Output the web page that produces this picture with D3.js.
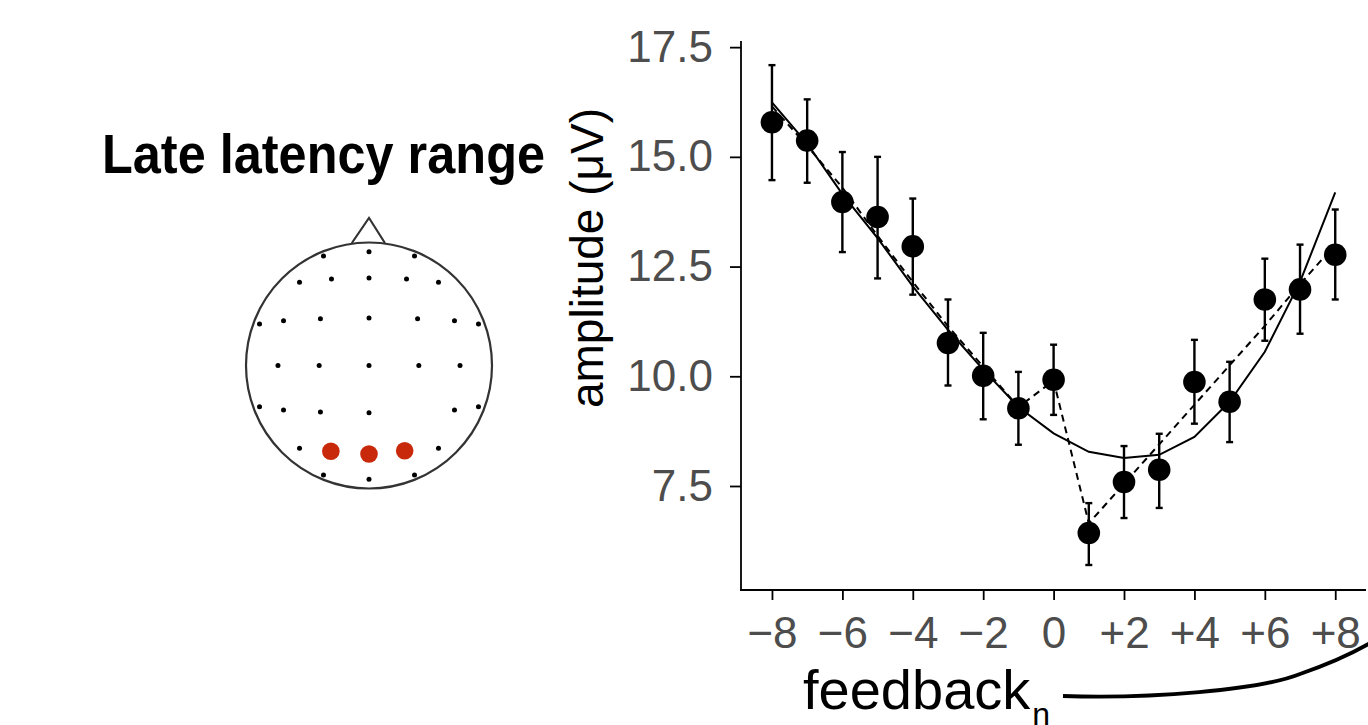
<!DOCTYPE html>
<html>
<head>
<meta charset="utf-8">
<script src="https://cdn.jsdelivr.net/npm/d3@7"></script>
<style>
  html, body { margin: 0; padding: 0; background: #fff; }
  svg { display: block; font-family: "Liberation Sans", Arial, sans-serif; }
</style>
</head>
<body>
<svg id="chart" width="1368" height="725"></svg>
<script>
// feedback lag (n) and mean amplitude with error bars
const lags      = [-8, -7, -6, -5, -4, -3, -2, -1, 0, 1, 2, 3, 4, 5, 6, 7, 8];
const amplitude = [15.79, 15.37, 13.97, 13.63, 12.96, 10.76, 10.01, 9.27, 9.92, 6.43, 7.59, 7.87, 9.87, 9.42, 11.75, 11.98, 12.77];
const errLow    = [14.47, 14.41, 12.83, 12.23, 11.86, 9.79, 9.02, 8.44, 9.12, 5.70, 6.77, 7.00, 8.92, 8.50, 10.81, 10.97, 11.75];
const errHigh   = [17.09, 16.31, 15.11, 15.00, 14.05, 11.75, 10.99, 10.10, 10.72, 7.11, 8.41, 8.69, 10.83, 10.33, 12.68, 13.00, 13.80];
// model predictions: solid = smooth fit, dashed = piecewise fit
const fitSolid  = [16.24, 15.30, 14.15, 13.15, 12.05, 11.06, 10.15, 9.30, 8.70, 8.28, 8.14, 8.21, 8.62, 9.42, 10.56, 12.15, 14.19];
const fitDashed = [16.15, 15.25, 14.30, 13.20, 12.15, 11.14, 10.22, 9.30, 9.90, 6.65, 7.55, 8.45, 9.35, 10.25, 11.15, 12.10, 13.00];

const xTicks = [-8, -6, -4, -2, 0, 2, 4, 6, 8];
const xTickLabels = ['\u22128', '\u22126', '\u22124', '\u22122', '0', '+2', '+4', '+6', '+8'];
const yTicks = [7.5, 10, 12.5, 15, 17.5];

// electrode layout on a unit head (x right, y toward back of head)
const electrodes = [
  [-0.37, -0.89], [0, -0.925], [0.37, -0.89],
  [-0.565, -0.676], [-0.305, -0.703], [0, -0.711], [0.305, -0.703], [0.565, -0.676],
  [-0.89, -0.337], [-0.695, -0.364], [-0.395, -0.38], [0, -0.386], [0.395, -0.38], [0.695, -0.364], [0.89, -0.337],
  [-0.74, 0], [-0.405, 0], [0, 0], [0.405, 0], [0.74, 0],
  [-0.89, 0.335], [-0.695, 0.362], [-0.395, 0.378], [0, 0.384], [0.695, 0.362], [0.89, 0.335],
  [-0.565, 0.673], [0.565, 0.673],
  [-0.37, 0.89], [0, 0.925], [0.37, 0.89]
];
const selected = [[-0.31, 0.697], [0, 0.72], [0.29, 0.693]];

const svg = d3.select('#chart');

// ---- chart panel ----
const x = d3.scaleLinear().domain([-8.8, 8.8]).range([743.8, 1363.4]);
const y = d3.scaleLinear().domain([5.13, 17.64]).range([590, 41]);

const plot = svg.append('g');

const line = d3.line().x((d, i) => x(lags[i])).y(d => y(d));

plot.append('path')
  .attr('d', line(fitSolid))
  .attr('fill', 'none').attr('stroke', '#000').attr('stroke-width', 2);

plot.append('path')
  .attr('d', line(fitDashed))
  .attr('fill', 'none').attr('stroke', '#000').attr('stroke-width', 2)
  .attr('stroke-dasharray', '7,5');

const bars = plot.append('g').attr('stroke', '#000').attr('stroke-width', 2.4);
lags.forEach((l, i) => {
  const cx = x(l);
  bars.append('line').attr('x1', cx).attr('x2', cx).attr('y1', y(errLow[i])).attr('y2', y(errHigh[i]));
  bars.append('line').attr('x1', cx - 3.5).attr('x2', cx + 3.5).attr('y1', y(errLow[i])).attr('y2', y(errLow[i]));
  bars.append('line').attr('x1', cx - 3.5).attr('x2', cx + 3.5).attr('y1', y(errHigh[i])).attr('y2', y(errHigh[i]));
});

plot.selectAll('circle.pt')
  .data(amplitude)
  .enter().append('circle')
  .attr('class', 'pt')
  .attr('cx', (d, i) => x(lags[i]))
  .attr('cy', d => y(d))
  .attr('r', 11.3)
  .attr('fill', '#000');

// axes
const yAxis = svg.append('g')
  .attr('transform', 'translate(741,0)')
  .call(d3.axisLeft(y).tickValues(yTicks).tickFormat(d3.format('.1f')).tickSize(11).tickPadding(17));

const xAxis = svg.append('g')
  .attr('transform', 'translate(0,590)')
  .call(d3.axisBottom(x).tickValues(xTicks).tickFormat((d, i) => xTickLabels[i]).tickSize(10).tickPadding(17));

[yAxis, xAxis].forEach(a => {
  a.select('.domain').remove();
  a.selectAll('line').attr('stroke', '#000').attr('stroke-width', 1.8);
  a.selectAll('text')
    .attr('fill', '#4d4d4d')
    .style('font-size', '44px')
    .style('font-family', '"Liberation Sans", Arial, sans-serif');
});

svg.append('line').attr('x1', 741).attr('x2', 741).attr('y1', 41).attr('y2', 590.9)
  .attr('stroke', '#000').attr('stroke-width', 1.8);
svg.append('line').attr('x1', 740.1).attr('x2', 1366).attr('y1', 590).attr('y2', 590)
  .attr('stroke', '#000').attr('stroke-width', 1.8);

// axis titles
svg.append('text')
  .attr('transform', 'translate(603,258) rotate(-90)')
  .attr('text-anchor', 'middle')
  .style('font-size', '46px')
  .attr('fill', '#000')
  .text('amplitude (\u03bcV)');

const xt = svg.append('text')
  .attr('x', 803).attr('y', 709)
  .style('font-size', '56px')
  .attr('fill', '#000');
xt.append('tspan').text('feedback');
xt.append('tspan').attr('dx', 2).attr('dy', 16).style('font-size', '32px').text('n');

// bracket curve under the x axis
svg.append('path')
  .attr('d', 'M1063,696 C1150,699 1260,690 1300,674 C1335,662 1355,652 1372,642')
  .attr('fill', 'none').attr('stroke', '#000').attr('stroke-width', 3.8);

// ---- title and head ----
svg.append('text')
  .attr('x', 102).attr('y', 173)
  .attr('textLength', 443).attr('lengthAdjust', 'spacingAndGlyphs')
  .style('font-size', '56px').style('font-weight', 'bold')
  .attr('fill', '#000')
  .text('Late latency range');

const head = { cx: 369, cy: 365.5, r: 123 };
const hx = d3.scaleLinear().domain([-1, 1]).range([head.cx - head.r, head.cx + head.r]);
const hy = d3.scaleLinear().domain([-1, 1]).range([head.cy - head.r, head.cy + head.r]);

const hg = svg.append('g');
hg.append('path')
  .attr('d', d3.line()([[hx(-0.14), hy(-0.995)], [hx(0), hy(-1.2)], [hx(0.13), hy(-0.995)]]))
  .attr('fill', 'none').attr('stroke', '#333').attr('stroke-width', 2);
hg.append('circle')
  .attr('cx', head.cx).attr('cy', head.cy).attr('r', head.r)
  .attr('fill', 'none').attr('stroke', '#333').attr('stroke-width', 2.2);

hg.selectAll('circle.el')
  .data(electrodes)
  .enter().append('circle')
  .attr('class', 'el')
  .attr('cx', d => hx(d[0])).attr('cy', d => hy(d[1]))
  .attr('r', 2.5).attr('fill', '#000');

hg.selectAll('circle.sel')
  .data(selected)
  .enter().append('circle')
  .attr('class', 'sel')
  .attr('cx', d => hx(d[0])).attr('cy', d => hy(d[1]))
  .attr('r', 8.8).attr('fill', '#c8290a');
</script>
</body>
</html>
